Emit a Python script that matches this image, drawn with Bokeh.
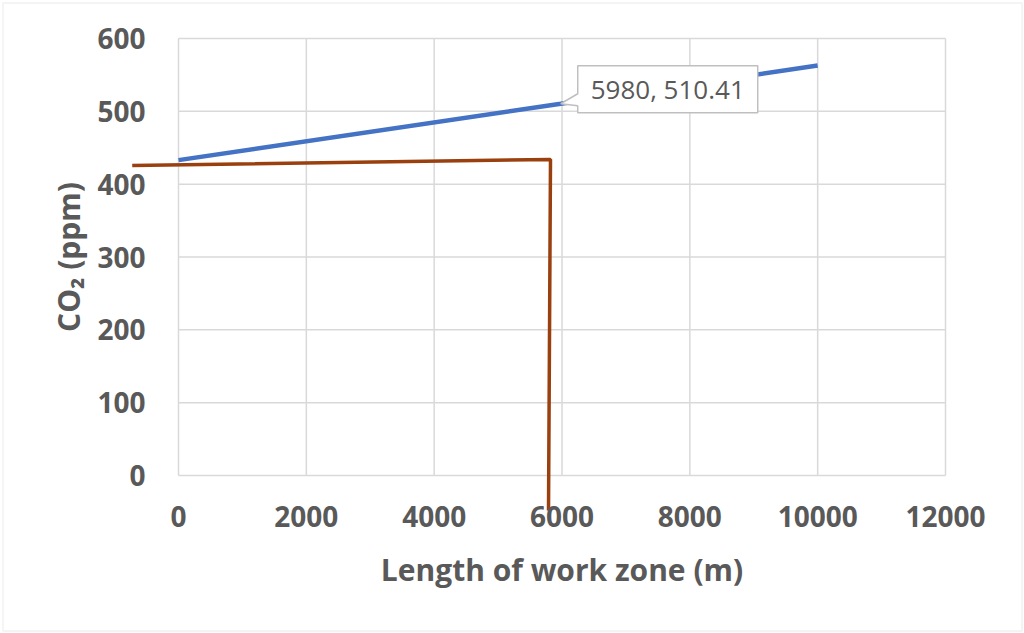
import math
from bokeh.plotting import figure
from bokeh.models import FixedTicker, Label, Range1d, BoxAnnotation
from bokeh.embed import file_html
from bokeh.resources import INLINE

# ---------------- data ----------------
series_x = [0, 5980, 10000]
series_y = [433.0, 510.41, 563.0]
guide_x = [-724, 5820, 5789]          # hand-drawn brown marker line
guide_y = [425.6, 433.9, -48.1]
x_ticks = [0, 2000, 4000, 6000, 8000, 10000, 12000]
y_ticks = [0, 100, 200, 300, 400, 500, 600]
label_x = 5980
label_y = 510.41
x_title = "Length of work zone (m)"
y_title = "CO₂ (ppm)"

# ---------------- layout (page pixels) ----------------
W, H = 1024, 633
ORG_X, ORG_Y = 178, 475      # px of (0, 0)
END_X, END_Y = 945, 38       # px of (12000, 600)
sx = (END_X - ORG_X) / (x_ticks[-1] - x_ticks[0])
sy = (ORG_Y - END_Y) / (y_ticks[-1] - y_ticks[0])
# the frame covers the whole canvas so nothing gets clipped
x_start = x_ticks[0] - ORG_X / sx
x_end = x_ticks[-1] + (W - END_X) / sx
y_start = y_ticks[0] - (H - ORG_Y) / sy
y_end = y_ticks[-1] + END_Y / sy

FONT = "Open Sans"
GRAY = "#595959"

p = figure(width=W, height=H, output_backend="svg", toolbar_location=None,
           x_range=Range1d(x_start, x_end), y_range=Range1d(y_start, y_end),
           min_border=0, min_border_left=0, min_border_right=0,
           min_border_top=0, min_border_bottom=0)
p.outline_line_color = None
p.background_fill_color = "white"
p.border_fill_color = "white"
p.grid.visible = False

# chart-area border
p.add_layout(BoxAnnotation(left=2.5, right=W - 2.5, top=2.5, bottom=H - 2.5,
                           left_units="screen", right_units="screen",
                           top_units="screen", bottom_units="screen",
                           fill_color=None, line_color="#d0d0d0", line_width=1.5))

# axes fixed at the data origin
for ax, ticks in ((p.xaxis, x_ticks), (p.yaxis, y_ticks)):
    ax.fixed_location = 0
    ax.ticker = FixedTicker(ticks=ticks)
    ax.axis_line_color = None
    ax.major_tick_line_color = None
    ax.minor_tick_line_color = None
    ax.major_label_text_font = FONT
    ax.major_label_text_font_style = "bold"
    ax.major_label_text_font_size = "28px"
    ax.major_label_text_color = GRAY
p.yaxis.major_label_standoff = 27
p.xaxis.major_label_standoff = 24

# gridlines (plot area only)
GRID = "#d9d9d9"
p.segment(x0=x_ticks, y0=[y_ticks[0]] * len(x_ticks), x1=x_ticks, y1=[y_ticks[-1]] * len(x_ticks),
          line_color=GRID, line_width=1.5)
p.segment(x0=[x_ticks[0]] * len(y_ticks), y0=y_ticks, x1=[x_ticks[-1]] * len(y_ticks), y1=y_ticks,
          line_color=GRID, line_width=1.5)

# series
p.line(series_x, series_y, line_color="#4472C4", line_width=4.5)
p.line(guide_x, guide_y, line_color="#9A3F0E", line_width=3.5)

# data-label callout (pixel offsets relative to the labelled point)
off = [(17, 38), (197, 38), (197, -9), (17, -9), (17, -2), (0, 0), (17, 10)]
cx = [label_x + dx / sx for dx, dy in off]
cy = [label_y + dy / sy for dx, dy in off]
p.patch(cx, cy, fill_color="white", line_color="#bfbfbf", line_width=1.5)
p.add_layout(Label(x=label_x, y=label_y, x_offset=107, y_offset=14.5,
                   text=f"{label_x}, {label_y}", text_align="center", text_baseline="middle",
                   text_font=FONT, text_font_size="26px", text_color=GRAY))

# axis titles
p.add_layout(Label(x=(x_ticks[0] + x_ticks[-1]) / 2, y=-(569 - ORG_Y) / sy, text=x_title,
                   text_align="center", text_baseline="middle", text_font=FONT,
                   text_font_size="30px", text_font_style="bold", text_color=GRAY))
p.add_layout(Label(x=-(ORG_X - 68) / sx, y=(y_ticks[0] + y_ticks[-1]) / 2, text=y_title,
                   angle=math.pi / 2, text_align="center", text_baseline="middle",
                   text_font=FONT, text_font_size="30px", text_font_style="bold",
                   text_color=GRAY))

open("out.html", "w").write(file_html(p, INLINE))
